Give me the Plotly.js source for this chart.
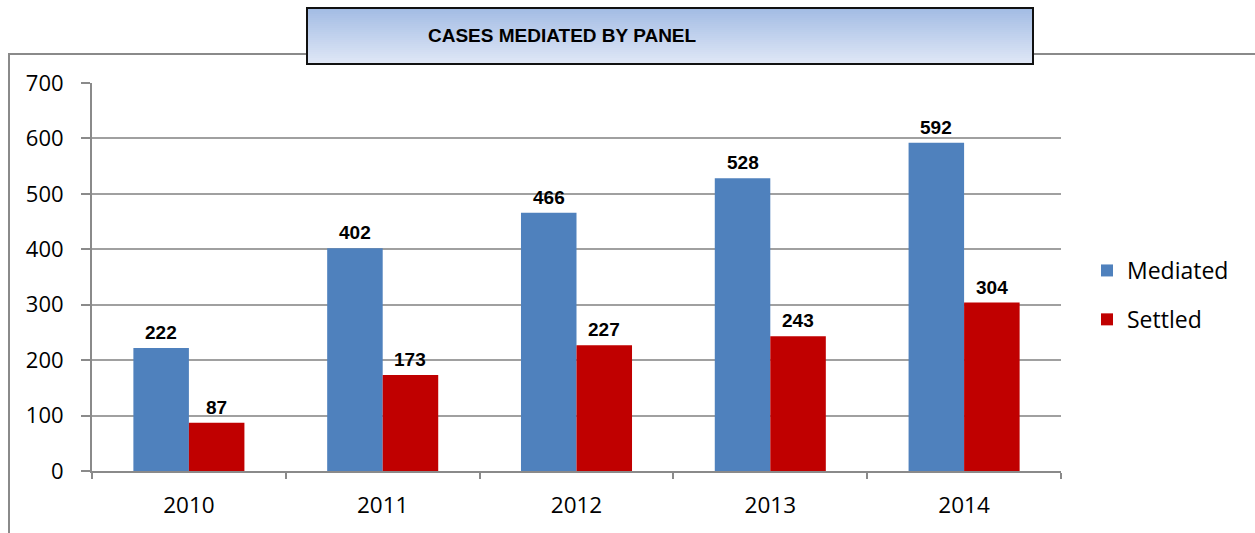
<!DOCTYPE html>
<html>
<head>
<meta charset="utf-8">
<script src="https://cdn.plot.ly/plotly-3.0.1.min.js"></script>
<style>html,body{margin:0;padding:0;background:#fff;}#chart{width:1255px;height:533px;}</style>
</head>
<body>
<div id="chart"></div>
<script>
var years = ["2010", "2011", "2012", "2013", "2014"];
var mediated = [222, 402, 466, 528, 592];
var settled = [87, 173, 227, 243, 304];
var yTicks = [0, 100, 200, 300, 400, 500, 600, 700];
var titleText = "CASES MEDIATED BY PANEL";

// pixel -> paper helpers (plot area: x 92..1061, y 83..471)
var L = 92, R = 1061, T = 83, B = 471;
function px(x){ return (x - L) / (R - L); }
function py(y){ return (B - y) / (B - T); }

var bargap = 0.427;
var barPx = (R - L) / years.length * (1 - bargap) / 2;

var shapes = [];
// outer chart border
shapes.push({type:'rect', xref:'paper', yref:'paper', x0:px(9), x1:px(1275), y0:py(560), y1:py(54),
  line:{color:'#8a8a8a', width:2}, fillcolor:'rgba(0,0,0,0)', layer:'below'});
// title box gradient
var bx0 = 307, bx1 = 1033, by0 = 8, by1 = 64, n = 28;
var c0 = [163,188,228], c1 = [223,231,246];
for (var i = 0; i < n; i++) {
  var t = i / (n - 1);
  var c = c0.map(function(v, k){ return Math.round(v + (c1[k] - v) * t); });
  var ya = by0 + (by1 - by0) * i / n, yb = by0 + (by1 - by0) * (i + 1) / n + 0.5;
  shapes.push({type:'rect', xref:'paper', yref:'paper', x0:px(bx0), x1:px(bx1), y0:py(yb), y1:py(ya),
    line:{width:0}, fillcolor:'rgb(' + c.join(',') + ')', layer:'above'});
}
shapes.push({type:'rect', xref:'paper', yref:'paper', x0:px(bx0), x1:px(bx1), y0:py(by1), y1:py(by0),
  line:{color:'#111', width:2}, fillcolor:'rgba(0,0,0,0)', layer:'above'});

var labelFont = {family:'Liberation Sans, Arial, sans-serif', size:19, color:'#000', weight:'bold'};

var annotations = [{xref:'paper', yref:'paper', x:px(562), y:py(36), xanchor:'center', yanchor:'middle',
    text:titleText, showarrow:false,
    font:{family:'Liberation Sans, Arial, sans-serif', size:19, color:'#000', weight:'bold'}}];
function addLabels(vals, shift) {
  vals.forEach(function(v, i){
    // x given as category index (numeric-looking category names would be read as indices)
    annotations.push({x:i, y:v, xref:'x', yref:'y', text:String(v), showarrow:false,
      xanchor:'center', yanchor:'bottom', xshift:shift, yshift:3, font:labelFont});
  });
}
addLabels(mediated, -barPx / 2);
addLabels(settled, barPx / 2);

var data = [
  {type:'bar', name:'Mediated', x:years, y:mediated, marker:{color:'#4f81bd'},
   legendgroup:'a', hoverinfo:'x+y'},
  {type:'bar', name:'Settled', x:years, y:settled, marker:{color:'#c00000'},
   legendgroup:'b', hoverinfo:'x+y'}
];

var layout = {
  width:1255, height:533,
  margin:{l:L, r:1255 - R, t:T, b:533 - B, pad:0},
  paper_bgcolor:'#fff', plot_bgcolor:'#fff',
  barmode:'group', bargap:bargap, bargroupgap:0,
  font:{family:'Open Sans, sans-serif', size:22, color:'#000'},
  xaxis:{type:'category', categoryorder:'array', categoryarray:years, range:[-0.5, years.length - 0.5],
    showgrid:false, showline:true, linecolor:'#8a8a8a', linewidth:2,
    ticks:'outside', tickson:'boundaries', ticklen:6, tickwidth:2, tickcolor:'#8a8a8a',
    tickfont:{size:22.5}, ticklabelstandoff:13, tickangle:0},
  yaxis:{range:[0,700], tickvals:yTicks, ticktext:yTicks.map(String), showgrid:true,
    gridcolor:'#a0a0a0', gridwidth:2, showline:true, linecolor:'#8a8a8a', linewidth:2,
    ticks:'outside', ticklen:9, tickwidth:2, tickcolor:'#8a8a8a', zeroline:false,
    tickfont:{size:22}, ticklabelstandoff:13},
  showlegend:true,
  legend:{x:px(1087), xanchor:'left', y:py(295), yanchor:'middle', font:{size:23},
    tracegroupgap:16, bgcolor:'rgba(0,0,0,0)'},
  shapes:shapes,
  annotations:annotations
};

Plotly.newPlot('chart', data, layout, {displayModeBar:false, staticPlot:true});
</script>
</body>
</html>
